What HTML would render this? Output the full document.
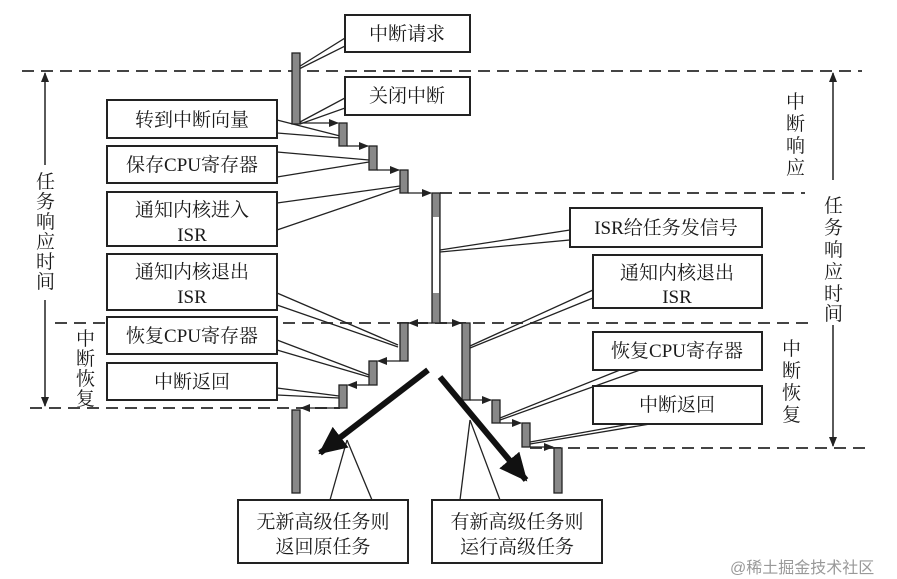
<!DOCTYPE html>
<html><head><meta charset="utf-8"><style>
html,body{margin:0;padding:0;background:#fff;}
svg{display:block;}
text{font-family:"Liberation Serif","Noto Serif CJK SC","Noto Sans CJK SC",serif;font-size:19px;fill:#1a1a1a;}
.v{font-size:18px;}
</style></head><body>
<svg width="897" height="579" viewBox="0 0 897 579" xmlns="http://www.w3.org/2000/svg">
<defs>
<marker id="a" markerWidth="10" markerHeight="8" refX="9" refY="4" orient="auto" markerUnits="userSpaceOnUse"><path d="M0,0 L10,4 L0,8 z" fill="#222"/></marker>
<marker id="big" markerWidth="30" markerHeight="26" refX="26" refY="13" orient="auto" markerUnits="userSpaceOnUse"><path d="M0,0 L28,13 L0,26 z" fill="#111"/></marker>
</defs>
<g stroke="#444" stroke-width="2" stroke-dasharray="12,7" fill="none">
<line x1="22" y1="71" x2="862" y2="71"/>
<line x1="440" y1="193" x2="805" y2="193"/>
<line x1="55" y1="323" x2="815" y2="323"/>
<line x1="30" y1="408" x2="340" y2="408"/>
<line x1="530" y1="448" x2="870" y2="448"/>
</g>
<g stroke="#222" stroke-width="1.5">
<line x1="45" y1="165" x2="45" y2="73" marker-end="url(#a)"/>
<line x1="45" y1="300" x2="45" y2="406" marker-end="url(#a)"/>
<line x1="833" y1="180" x2="833" y2="73" marker-end="url(#a)"/>
<line x1="833" y1="325" x2="833" y2="446" marker-end="url(#a)"/>
</g>
<g class="v">
<text x="36" y="188">任</text><text x="36" y="208">务</text><text x="36" y="228">响</text><text x="36" y="248">应</text><text x="36" y="268">时</text><text x="36" y="288">间</text>
<text x="76" y="345">中</text><text x="76" y="365">断</text><text x="76" y="385">恢</text><text x="76" y="405">复</text>
<text x="786" y="108">中</text><text x="786" y="130">断</text><text x="786" y="152">响</text><text x="786" y="174">应</text>
<text x="824" y="212">任</text><text x="824" y="234">务</text><text x="824" y="256">响</text><text x="824" y="278">应</text><text x="824" y="300">时</text><text x="824" y="320">间</text>
<text x="782" y="355">中</text><text x="782" y="377">断</text><text x="782" y="399">恢</text><text x="782" y="421">复</text>
</g>
<g stroke="#222" stroke-width="1.3" fill="none">
<polyline points="345,20 345,38 297,68"/><polyline points="345,52 345,46 297,70"/>
<polyline points="345,82 345,98 300,122"/><polyline points="345,115 345,108 300,124"/>
<line x1="277" y1="120" x2="340" y2="136"/><line x1="277" y1="133" x2="340" y2="138"/>
<line x1="277" y1="152" x2="369" y2="160"/><line x1="277" y1="177" x2="369" y2="162"/>
<line x1="277" y1="203" x2="400" y2="186"/><line x1="277" y1="230" x2="400" y2="188"/>
<line x1="277" y1="293" x2="398" y2="345"/><line x1="277" y1="305" x2="398" y2="347"/>
<line x1="277" y1="340" x2="369" y2="375"/><line x1="277" y1="350" x2="369" y2="377"/>
<line x1="277" y1="388" x2="339" y2="396"/><line x1="277" y1="395" x2="339" y2="398"/>
<polyline points="570,232 570,230 440,250"/><polyline points="570,242 570,240 440,252"/>
<polyline points="593,290 470,346"/><polyline points="593,298 470,348"/>
<line x1="620" y1="370" x2="500" y2="418"/><line x1="640" y1="370" x2="500" y2="420"/>
<line x1="630" y1="424" x2="530" y2="442"/><line x1="650" y1="424" x2="530" y2="444"/>
<line x1="347" y1="440" x2="330" y2="500"/><line x1="347" y1="440" x2="372" y2="500"/>
<line x1="470" y1="420" x2="460" y2="500"/><line x1="470" y1="420" x2="500" y2="500"/>
</g>
<g stroke="#222" stroke-width="1.3" fill="none">
<line x1="300" y1="123" x2="338" y2="123" marker-end="url(#a)"/>
<line x1="347" y1="146" x2="368" y2="146" marker-end="url(#a)"/>
<line x1="377" y1="170" x2="399" y2="170" marker-end="url(#a)"/>
<line x1="408" y1="193" x2="431" y2="193" marker-end="url(#a)"/>
<line x1="432" y1="323" x2="409" y2="323" marker-end="url(#a)"/>
<line x1="440" y1="323" x2="461" y2="323" marker-end="url(#a)"/>
<line x1="400" y1="361" x2="378" y2="361" marker-end="url(#a)"/>
<line x1="369" y1="385" x2="348" y2="385" marker-end="url(#a)"/>
<line x1="339" y1="408" x2="301" y2="408" marker-end="url(#a)"/>
<line x1="470" y1="400" x2="491" y2="400" marker-end="url(#a)"/>
<line x1="500" y1="423" x2="521" y2="423" marker-end="url(#a)"/>
<line x1="530" y1="447" x2="553" y2="447" marker-end="url(#a)"/>
</g>
<g fill="#888" stroke="#222" stroke-width="1.3">
<rect x="292" y="53" width="8" height="71"/>
<rect x="339" y="123" width="8" height="23"/>
<rect x="369" y="146" width="8" height="24"/>
<rect x="400" y="170" width="8" height="23"/>
<rect x="432" y="193" width="8" height="130"/>
<rect x="400" y="323" width="8" height="38"/>
<rect x="369" y="361" width="8" height="24"/>
<rect x="339" y="385" width="8" height="23"/>
<rect x="292" y="410" width="8" height="83"/>
<rect x="462" y="323" width="8" height="77"/>
<rect x="492" y="400" width="8" height="23"/>
<rect x="522" y="423" width="8" height="24"/>
<rect x="554" y="448" width="8" height="45"/>
</g>
<rect x="433" y="217" width="6" height="76" fill="#fff"/>
<line x1="428" y1="370" x2="320" y2="453" stroke="#111" stroke-width="6" marker-end="url(#big)"/>
<line x1="440" y1="377" x2="526" y2="480" stroke="#111" stroke-width="6" marker-end="url(#big)"/>
<g fill="#fff" stroke="#222" stroke-width="2">
<rect x="345" y="15" width="125" height="37"/>
<rect x="345" y="77" width="125" height="38"/>
<rect x="107" y="100" width="170" height="38"/>
<rect x="107" y="146" width="170" height="37"/>
<rect x="107" y="192" width="170" height="54"/>
<rect x="107" y="254" width="170" height="56"/>
<rect x="107" y="317" width="170" height="37"/>
<rect x="107" y="363" width="170" height="37"/>
<rect x="570" y="208" width="192" height="39"/>
<rect x="593" y="255" width="169" height="53"/>
<rect x="593" y="332" width="169" height="38"/>
<rect x="593" y="386" width="169" height="38"/>
<rect x="238" y="500" width="170" height="63"/>
<rect x="432" y="500" width="170" height="63"/>
</g>
<g text-anchor="middle">
<text x="407" y="40">中断请求</text>
<text x="407" y="102">关闭中断</text>
<text x="192" y="126">转到中断向量</text>
<text x="192" y="171">保存CPU寄存器</text>
<text x="192" y="216">通知内核进入</text><text x="192" y="241">ISR</text>
<text x="192" y="278">通知内核退出</text><text x="192" y="303">ISR</text>
<text x="192" y="342">恢复CPU寄存器</text>
<text x="192" y="388">中断返回</text>
<text x="666" y="234">ISR给任务发信号</text>
<text x="677" y="279">通知内核退出</text><text x="677" y="303">ISR</text>
<text x="677" y="357">恢复CPU寄存器</text>
<text x="677" y="411">中断返回</text>
<text x="323" y="528">无新高级任务则</text><text x="323" y="553">返回原任务</text>
<text x="517" y="528">有新高级任务则</text><text x="517" y="553">运行高级任务</text>
</g>
<text x="730" y="573" style="fill:#999;font-size:16px;font-family:'Liberation Sans','Noto Sans CJK SC',sans-serif">@稀土掘金技术社区</text>
</svg>
</body></html>
